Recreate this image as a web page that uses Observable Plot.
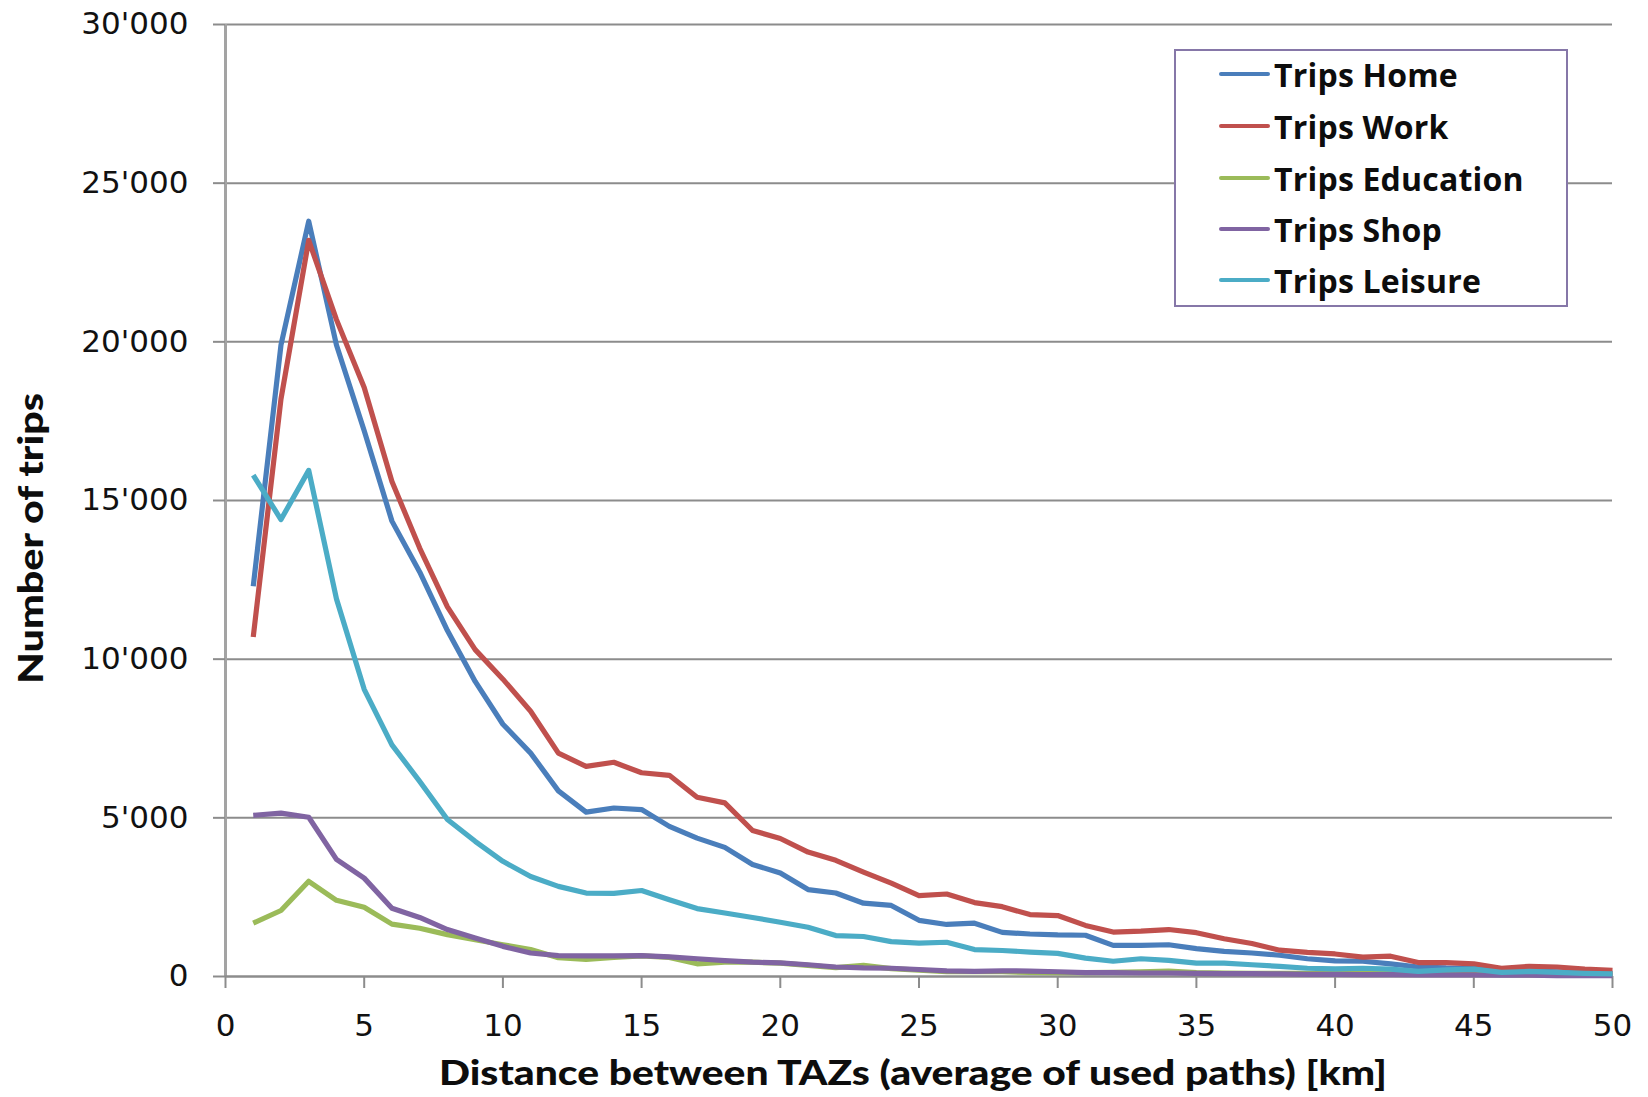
<!DOCTYPE html>
<html>
<head>
<meta charset="utf-8">
<script src="https://cdn.jsdelivr.net/npm/d3@7"></script>
<script src="https://cdn.jsdelivr.net/npm/@observablehq/plot@0.6"></script>
<style>
  html, body { margin: 0; padding: 0; background: #fff; }
  #wrap { position: relative; width: 1648px; height: 1097px; overflow: hidden; }
  #legend {
    position: absolute; left: 1174px; top: 49px; width: 394px; height: 258px;
    box-sizing: border-box; border: 2px solid #8677a8; background: #fff;
    font-family: "Open Sans", "Liberation Sans", sans-serif; font-weight: bold;
    font-size: 32px; letter-spacing: 0.2px; color: #0d0d0d;
  }
  .item { position: absolute; left: 43px; height: 40px; display: flex; align-items: center; white-space: nowrap; }
  .sw { width: 51px; height: 4px; border-radius: 2px; margin-right: 4px; }
</style>
</head>
<body>
<div id="wrap"><div id="chart"></div><div id="legend"></div></div>
<script>
// ---- data ----
const km = [1,2,3,4,5,6,7,8,9,10,11,12,13,14,15,16,17,18,19,20,21,22,23,24,25,
            26,27,28,29,30,31,32,33,34,35,36,37,38,39,40,41,42,43,44,45,46,47,48,49,50];

const tripsHome = [12300,19900,23800,19900,17200,14350,12750,10900,9300,7950,
                   7040,5850,5180,5310,5260,4730,4360,4070,3530,3260,
                   2740,2630,2310,2240,1770,1640,1680,1390,1340,1310,
                   1300,980,980,1000,880,790,740,670,560,490,
                   480,400,300,270,260,170,180,150,120,100];

const tripsWork = [10700,18200,23200,20700,18560,15600,13500,11650,10300,9370,
                   8360,7040,6620,6750,6420,6340,5650,5470,4600,4350,
                   3920,3660,3290,2940,2550,2600,2330,2200,1950,1920,
                   1610,1400,1430,1480,1380,1190,1040,830,760,710,
                   610,640,440,440,400,260,320,300,230,190];

const tripsEducation = [1680,2080,3000,2400,2180,1650,1520,1320,1160,1000,
                        850,590,540,600,650,600,400,450,450,420,
                        350,280,350,250,200,150,150,150,130,120,
                        120,130,150,170,120,110,100,100,100,100,
                        90,90,80,80,80,70,60,60,50,50];

const tripsShop = [5080,5150,5020,3690,3100,2150,1860,1480,1210,950,
                   740,660,650,650,660,620,560,500,450,430,
                   370,300,270,260,220,180,160,180,170,150,
                   120,120,110,110,100,90,90,80,70,70,
                   60,60,50,50,50,40,40,30,30,30];

const tripsLeisure = [15800,14400,15950,11900,9050,7300,6150,4950,4260,3630,
                      3150,2840,2630,2620,2710,2420,2140,2000,1860,1710,
                      1550,1290,1260,1100,1050,1080,850,820,770,730,
                      580,480,560,510,420,420,370,320,260,240,
                      260,230,160,210,230,130,160,130,100,80];

const seriesNames = ["Trips Home","Trips Work","Trips Education","Trips Shop","Trips Leisure"];
const seriesValues = [tripsHome, tripsWork, tripsEducation, tripsShop, tripsLeisure];
const seriesColors = ["#4a7ebb","#c0504d","#9bbb59","#8064a2","#4bacc6"];

const xTicks = [0,5,10,15,20,25,30,35,40,45,50];
const yTicks = [0,5000,10000,15000,20000,25000,30000];
const xTitle = "Distance between TAZs (average of used paths) [km]";
const yTitle = "Number of trips";

// ---- build table ----
const rows = [];
seriesNames.forEach((name, s) => {
  seriesValues[s].forEach((v, i) => rows.push({km: km[i], trips: v, series: name}));
});

const fmt = d3.formatLocale({decimal: ".", thousands: "'", grouping: [3], currency: ["", ""]}).format(",");

const tickFont = "DejaVu Sans, sans-serif";
const titleFont = "Lato, Liberation Sans, sans-serif";

const chart = Plot.plot({
  width: 1648,
  height: 1097,
  marginLeft: 225,
  marginRight: 36,
  marginTop: 24,
  marginBottom: 121,
  style: {background: "#fff", color: "#111", overflow: "visible"},
  x: {domain: [0, 50]},
  y: {domain: [0, 30000]},
  color: {domain: seriesNames, range: seriesColors},
  marks: [
    Plot.gridY(yTicks.filter(d => d > 0), {stroke: "#8c8c8c", strokeOpacity: 1, strokeWidth: 2}),
    Plot.ruleX([0], {stroke: "#a3a3a3", strokeWidth: 3}),
    Plot.ruleY([0], {stroke: "#8c8c8c", strokeWidth: 2.5}),
    Plot.axisY(yTicks, {
      tickSize: 12, tickPadding: 25, tickFormat: fmt, stroke: "#8c8c8c", strokeWidth: 2,
      fill: "#111", fontSize: 31, fontFamily: tickFont, label: null
    }),
    Plot.axisX(xTicks, {
      tickSize: 12, tickPadding: 25, stroke: "#8c8c8c", strokeWidth: 2,
      fill: "#111", fontSize: 31, fontFamily: tickFont, label: null
    }),
    Plot.line(rows, {
      x: "km", y: "trips", stroke: "series", z: "series",
      strokeWidth: 5.2, strokeLinejoin: "round", strokeLinecap: "butt"
    }),
    Plot.text([xTitle], {
      frameAnchor: "bottom", lineAnchor: "middle", textAnchor: "middle", dy: 98, dx: -6, text: d => d,
      fontFamily: titleFont, fontWeight: "900", fontSize: 34, fill: "#0d0d0d"
    }),
    Plot.text([yTitle], {
      frameAnchor: "left", lineAnchor: "middle", textAnchor: "middle", dx: -193, dy: 38, rotate: -90, text: d => d,
      fontFamily: titleFont, fontWeight: "900", fontSize: 34, fill: "#0d0d0d"
    })
  ]
});

// stretch titles to the measured widths
d3.select(chart).selectAll("text").each(function() {
  if (this.textContent === xTitle) {
    this.setAttribute("textLength", 948);
    this.setAttribute("lengthAdjust", "spacingAndGlyphs");
  } else if (this.textContent === yTitle) {
    this.setAttribute("textLength", 291);
    this.setAttribute("lengthAdjust", "spacingAndGlyphs");
  }
});

document.getElementById("chart").appendChild(chart);

// ---- legend ----
const legend = d3.select("#legend");
const rowTops = [3, 55, 107, 158, 209];
seriesNames.forEach((name, i) => {
  const item = legend.append("div").attr("class", "item").style("top", rowTops[i] + "px");
  item.append("div").attr("class", "sw").style("background", seriesColors[i]);
  item.append("span").text(name);
});
</script>
</body>
</html>
